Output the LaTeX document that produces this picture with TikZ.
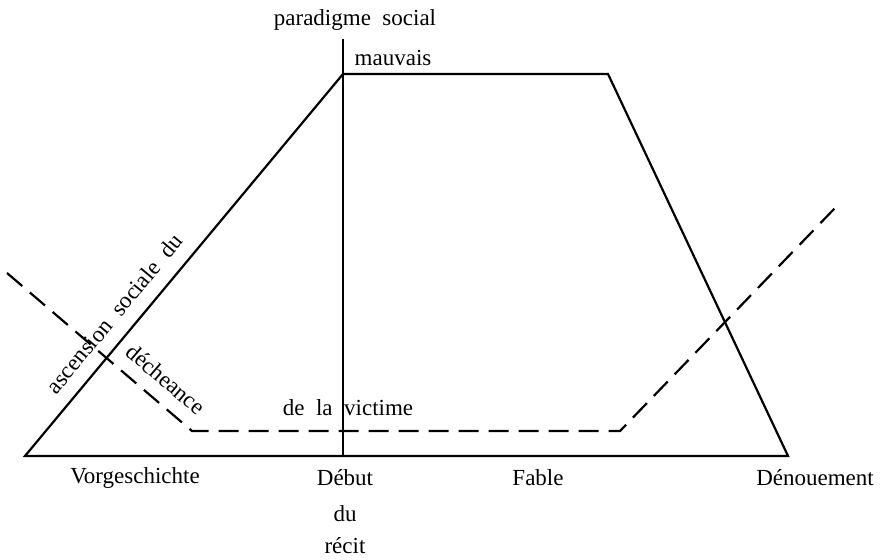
\documentclass[tikz,border=0pt]{standalone}
\usepackage{fontspec}
\setmainfont{Liberation Serif}
\usetikzlibrary{calc}

\begin{document}
\begin{tikzpicture}[x=0.5pt,y=-0.5pt]
			\tikzstyle{lbl}=[inner sep=1pt, font=\fontsize{11.5}{13}\selectfont]
			\tikzstyle{schema}=[line width=1.1pt, line join=miter]
			\tikzstyle{victime}=[line width=1.1pt, dash pattern=on 10pt off 5pt]

			\useasboundingbox (0,0) rectangle (886,560);

			% trapeze du paradigme social
			\coordinate (A) at (25,456);
			\coordinate (B) at (343,74);
			\coordinate (C) at (608,74);
			\coordinate (D) at (788,456);
			\draw [schema] (A) -- (B) -- (C) -- (D) -- cycle;

			% debut du recit
			\coordinate (T) at (343,39);
			\coordinate (S) at (343,456);
			\draw [schema] (T) -- (S);

			% courbe de la victime
			\coordinate (V1) at (7,273);
			\coordinate (V2) at (192,431);
			\coordinate (V3) at (620,431);
			\coordinate (V4) at (835,208);
			\draw [victime] (V1) -- (V2) -- (V3) -- (V4);

			\path (A) -- (B) node (asc) [lbl, pos=0.335, sloped, above=6pt] {ascension\ \ sociale\ \ du};
			\path (V1) -- (V2) node (dech) [lbl, pos=0.78, sloped, above=6pt] {décheance};

			\node (para) [lbl] at (355,20) {paradigme\ \ social};
			\node (mauv) [lbl] at (393,58) {mauvais};
			\node (vict) [lbl] at (348,408) {de\ \ la\ \ victime};

			\node (vorg) [lbl] at (135,478) {Vorgeschichte};
			\node (debut) [lbl] at (345,478) {Début};
			\node (du) [lbl] at (345,514) {du};
			\node (recit) [lbl] at (345,546) {récit};
			\node (fable) [lbl] at (538,478) {Fable};
			\node (denou) [lbl] at (815,478) {Dénouement};
		\end{tikzpicture}
\end{document}
